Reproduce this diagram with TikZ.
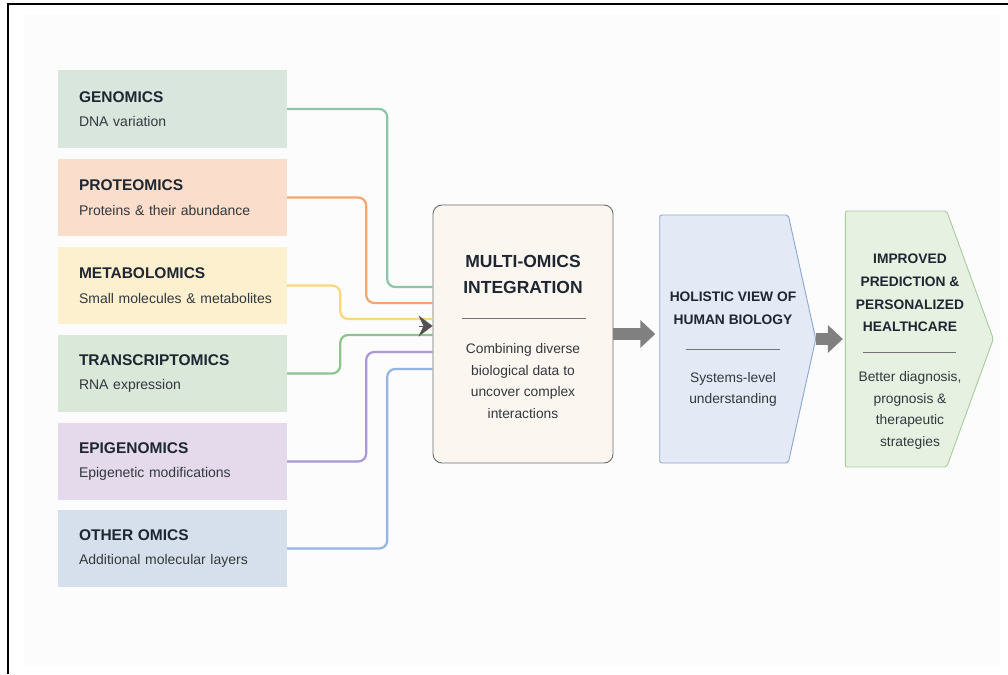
\documentclass[tikz,border=0pt]{standalone}
\usepackage{fontspec}
\setmainfont{Liberation Sans}
\usetikzlibrary{arrows.meta,shapes.symbols}

\definecolor{inkdark}{HTML}{1E2731}
\definecolor{inkbody}{HTML}{33383D}
\definecolor{genfill}{HTML}{D8E6DD}
\definecolor{protfill}{HTML}{FADDCA}
\definecolor{metafill}{HTML}{FDF0CE}
\definecolor{transfill}{HTML}{D9E8D8}
\definecolor{epifill}{HTML}{E4DAEC}
\definecolor{othfill}{HTML}{D6E0EC}
\definecolor{genline}{HTML}{8CC4AC}
\definecolor{protline}{HTML}{F5A66E}
\definecolor{metaline}{HTML}{F9D77C}
\definecolor{transline}{HTML}{8DC48E}
\definecolor{epiline}{HTML}{AA97D5}
\definecolor{othline}{HTML}{94B4E1}
\definecolor{integfill}{HTML}{FCF6F1}
\definecolor{integdraw}{HTML}{6E6E6E}
\definecolor{holfill}{HTML}{E3EAF5}
\definecolor{holdraw}{HTML}{8CA7D0}
\definecolor{healfill}{HTML}{E7F1E2}
\definecolor{healdraw}{HTML}{A8CB9C}
\definecolor{flowgray}{HTML}{808080}
\definecolor{pagefill}{HTML}{FCFCFC}

\newcommand{\omtitle}[1]{{\color{inkdark}\fontsize{15.5}{18}\selectfont\bfseries #1}}
\newcommand{\omsub}[1]{\mbox{#1}}

\tikzset{
  omicbox/.style={rectangle, minimum height=77pt, text width=187pt, inner xsep=21pt,
    align=left, font=\fontsize{14}{24.5}\selectfont, text=inkbody},
  omicline/.style={line width=2.2pt, rounded corners=8pt},
  integbox/.style={rectangle, rounded corners=9pt, draw=integdraw, fill=integfill,
    line width=0.9pt, minimum width=180pt, minimum height=258pt},
  signalbox/.style={signal, signal to=east, line width=0.9pt, rounded corners=2pt},
  bigtitle/.style={align=center, font=\fontsize{17.5}{26}\selectfont\bfseries, text=inkdark},
  midtitle/.style={align=center, font=\fontsize{13.8}{22.7}\selectfont\bfseries, text=inkdark},
  bodytext/.style={align=center, font=\fontsize{13.8}{21.8}\selectfont, text=inkbody},
  rulegray/.style={draw=black!55, line width=0.7pt},
  flowarrow/.style={flowgray, line width=12pt, -{Triangle[length=15pt,width=27pt]}},
  mergetip/.style={black!68, line width=0.2pt, -{Stealth[length=14pt,width=21pt,inset=5pt]}}
}

\begin{document}
\begin{tikzpicture}[x=1pt,y=-1pt]

    \useasboundingbox (0,0) rectangle (1008,674);
    \fill[pagefill] (24,15) rectangle (1000,666);
    \draw[line width=2pt] (8,674) -- (8,4) -- (1008,4);

    %%%%%%%%%%%%%%%%%%%%%%%%%%%%%%%%%%%%%%%%%%%%%%%%%%%%%%

    % omics layers
    \node[omicbox, fill=genfill] (gen) at (172.5,109) {\omtitle{GENOMICS}\\\omsub{DNA variation}};
    \node[omicbox, fill=protfill] (prot) at (172.5,197.5) {\omtitle{PROTEOMICS}\\\omsub{Proteins \& their abundance}};
    \node[omicbox, fill=metafill] (meta) at (172.5,285.5) {\omtitle{METABOLOMICS}\\\omsub{Small molecules \& metabolites}};
    \node[omicbox, fill=transfill] (trans) at (172.5,373.5) {\omtitle{TRANSCRIPTOMICS}\\\omsub{RNA expression}};
    \node[omicbox, fill=epifill] (epi) at (172.5,461.5) {\omtitle{EPIGENOMICS}\\\omsub{Epigenetic modifications}};
    \node[omicbox, fill=othfill] (oth) at (172.5,548.5) {\omtitle{OTHER OMICS}\\\omsub{Additional molecular layers}};

    %%%%%%%%%%%%%%%%%%%%%%%%%%%%%%%%%%%%%%%%%%%%%%%%%%%%%%

    % integration step
    \node[integbox] (integ) at (523,334) {};
    \node[bigtitle] (integ-title) at (523,274) {MULTI-OMICS\\INTEGRATION};
    \draw[rulegray] (462,318) -- (586,318);
    \node[bodytext] (integ-body) at (523,381) {Combining diverse\\biological data to\\uncover complex\\interactions};

    % layers feeding the integration
    \draw[omicline, genline] (gen.east) -- ++(100,0) |- ([yshift=47pt]integ.west);
    \draw[omicline, protline] (prot.east) -- ++(79,0) |- ([yshift=31pt]integ.west);
    \draw[omicline, metaline] (meta.east) -- ++(53,0) |- ([yshift=15pt]integ.west);
    \draw[omicline, transline] (trans.east) -- ++(53,0) |- ([yshift=-1pt]integ.west);
    \draw[omicline, epiline] (epi.east) -- ++(79,0) |- ([yshift=-18pt]integ.west);
    \draw[omicline, othline] (oth.east) -- ++(100,0) |- ([yshift=-35pt]integ.west);
    \draw[mergetip] ([xshift=-14pt,yshift=8pt]integ.west) -- ([yshift=8pt]integ.west);

    %%%%%%%%%%%%%%%%%%%%%%%%%%%%%%%%%%%%%%%%%%%%%%%%%%%%%%

    % holistic view
    \node[signalbox, fill=holfill, draw=holdraw, minimum width=156pt, minimum height=248pt,
      signal pointer angle=155] (hol) at (724,339) {};
    \node[midtitle] (hol-title) at (733,308.5) {HOLISTIC VIEW OF\\HUMAN BIOLOGY};
    \draw[rulegray] (686,349) -- (780,349);
    \node[bodytext] (hol-body) at (733,389.5) {Systems-level\\understanding};

    % healthcare outcome
    \node[signalbox, fill=healfill, draw=healdraw, minimum width=148pt, minimum height=256pt,
      signal pointer angle=140] (heal) at (896,339) {};
    \node[midtitle] (heal-title) at (910,293) {IMPROVED\\PREDICTION \&\\PERSONALIZED\\HEALTHCARE};
    \draw[rulegray] (863,352) -- (956,352);
    \node[bodytext] (heal-body) at (910,410.5) {Better diagnosis,\\prognosis \&\\therapeutic\\strategies};

    %%%%%%%%%%%%%%%%%%%%%%%%%%%%%%%%%%%%%%%%%%%%%%%%%%%%%%

    % flow between steps
    \draw[flowarrow, shorten >=4pt] (integ.east) -- (integ.east -| hol.west);
    \draw[flowarrow, shorten >=2pt] (hol.east) -- (hol.east -| heal.west);

\end{tikzpicture}
\end{document}
